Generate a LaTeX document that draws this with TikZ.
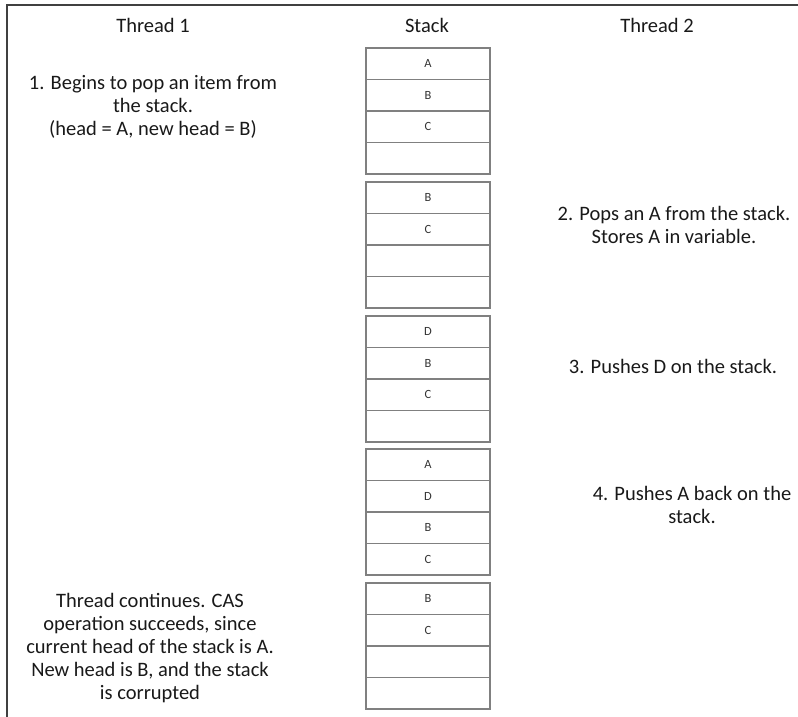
\documentclass[tikz,border=0pt]{standalone}
\usepackage{fontspec}
\setmainfont{Carlito}
\begin{document}
\begin{tikzpicture}[x=1pt,y=-1pt,
  cell/.style={draw=black!50, line width=1.1pt, minimum width=124pt, minimum height=31.5pt, inner sep=0pt, font=\fontsize{12.5}{13}\selectfont, text=black!80},
  lbl/.style={align=center, inner sep=0pt, text=black!90, font=\fontsize{20.5}{23}\selectfont},
  frameline/.style={draw=black!75, line width=2pt}]
\useasboundingbox (0,0) rectangle (798,717);
\coordinate (fbl) at (7,717);
\coordinate (ftl) at (7,5);
\coordinate (ftr) at (798,5);
\draw[frameline] (fbl) -- (ftl) -- (ftr);

\node[lbl] (h1) at (153,25) {Thread 1};
\node[lbl] (h2) at (427,25) {Stack};
\node[lbl] (h3) at (657,25) {Thread 2};

% box 1
\node[cell] (s1a) at (428,63.75) {A};
\node[cell] (s1b) at (428,95.25) {B};
\node[cell] (s1c) at (428,126.75) {C};
\node[cell] (s1d) at (428,158.25) {};
% box 2
\node[cell] (s2a) at (428,197.75) {B};
\node[cell] (s2b) at (428,229.25) {C};
\node[cell] (s2c) at (428,260.75) {};
\node[cell] (s2d) at (428,292.25) {};
% box 3
\node[cell] (s3a) at (428,331.75) {D};
\node[cell] (s3b) at (428,363.25) {B};
\node[cell] (s3c) at (428,394.75) {C};
\node[cell] (s3d) at (428,426.25) {};
% box 4
\node[cell] (s4a) at (428,464.75) {A};
\node[cell] (s4b) at (428,496.25) {D};
\node[cell] (s4c) at (428,527.75) {B};
\node[cell] (s4d) at (428,559.25) {C};
% box 5
\node[cell] (s5a) at (428,598.75) {B};
\node[cell] (s5b) at (428,630.25) {C};
\node[cell] (s5c) at (428,661.75) {};
\node[cell] (s5d) at (428,693.25) {};

\node[lbl] (t1) at (153,107) {1. Begins to pop an item from\\the stack.\\(head = A, new head = B)};
\node[lbl] (t2) at (674,224.5) {2. Pops an A from the stack.\\Stores A in variable.};
\node[lbl] (t3) at (673,366) {3. Pushes D on the stack.};
\node[lbl] (t4) at (692,504.5) {4. Pushes A back on the\\stack.};
\node[lbl] (t5) at (150,648) {Thread continues. CAS\\operation succeeds, since\\current head of the stack is A.\\New head is B, and the stack\\is corrupted};
\end{tikzpicture}
\end{document}
